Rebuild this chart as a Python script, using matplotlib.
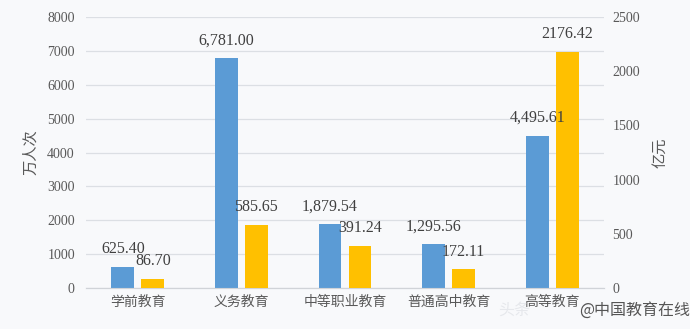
import matplotlib
matplotlib.use("Agg")
import matplotlib.pyplot as plt
import numpy as np

categories = ["学前教育", "义务教育", "中等职业教育", "普通高中教育", "高等教育"]
persons = [625.40, 6781.00, 1879.54, 1295.56, 4495.61]      # 万人次 (left axis)
funds = [86.70, 585.65, 391.24, 172.11, 2176.42]            # 亿元 (right axis)
person_labels = ["625.40", "6,781.00", "1,879.54", "1,295.56", "4,495.61"]
fund_labels = ["86.70", "585.65", "391.24", "172.11", "2176.42"]
left_ticks = [0, 1000, 2000, 3000, 4000, 5000, 6000, 7000, 8000]
right_ticks = [0, 500, 1000, 1500, 2000, 2500]

CJK = ["Noto Sans CJK SC", "DejaVu Sans"]
NUM = ["Liberation Serif", "DejaVu Serif"]
bg = "#f8f9fb"
blue = "#5b9bd5"
orange = "#ffc000"
tick_c = "#595959"

fig = plt.figure(figsize=(6.9, 3.29), dpi=100, facecolor=bg)
ax = fig.add_axes([0.1246, 0.1246, 0.7508, 0.8237])
ax.set_facecolor(bg)
ax2 = ax.twinx()

x = np.arange(len(categories))
w = 0.22
off = 0.145
ax.bar(x - off, persons, width=w, color=blue, zorder=3)
ax2.bar(x + off, funds, width=w, color=orange, zorder=3)

ax.set_ylim(0, 8000)
ax2.set_ylim(0, 2500)
ax.set_xlim(-0.5, len(categories) - 0.5)
ax.set_yticks(left_ticks)
ax2.set_yticks(right_ticks)
ax.set_yticklabels([str(t) for t in left_ticks], family=NUM, fontsize=10, color=tick_c)
ax2.set_yticklabels([str(t) for t in right_ticks], family=NUM, fontsize=10, color=tick_c)
ax.set_xticks(x)
ax.set_xticklabels(categories, family=CJK, fontsize=10, color=tick_c)

ax.tick_params(axis="y", length=0, pad=8)
ax2.tick_params(axis="y", length=0, pad=6)
ax.tick_params(axis="x", length=0, pad=5)

ax.grid(axis="y", color="#dcdfe4", linewidth=0.9, zorder=0)
ax.set_axisbelow(True)
for a in (ax, ax2):
    for s in ("top", "left", "right"):
        a.spines[s].set_visible(False)
    a.spines["bottom"].set_color("#d0d3d8")

ax.set_ylabel("万人次", family=CJK, fontsize=11, color=tick_c, labelpad=6)
ax2.set_ylabel("亿元", family=CJK, fontsize=11, color=tick_c, rotation=90, labelpad=8)

for xi, v, lab in zip(x, persons, person_labels):
    ax2.annotate(lab, (xi - off, v), xycoords=ax.transData, xytext=(0, 7),
                 textcoords="offset points", ha="center", va="bottom",
                 family=NUM, fontsize=11.5, color="#404040", zorder=5)
for xi, v, lab in zip(x, funds, fund_labels):
    ax2.annotate(lab, (xi + off, v), xytext=(0, 7), textcoords="offset points",
                 ha="center", va="bottom", family=NUM, fontsize=11.5, color="#404040", zorder=5)

# watermark
fig.text(0.722, 0.058, "头条", family=CJK, fontsize=11.5, color="#e6e8ec",
         style="italic", ha="left", va="center")
fig.text(1.0, 0.058, "@中国教育在线", family=CJK, fontsize=11.5, color="#555555",
         ha="right", va="center")

fig.savefig("out.png", dpi=100, facecolor=bg)
